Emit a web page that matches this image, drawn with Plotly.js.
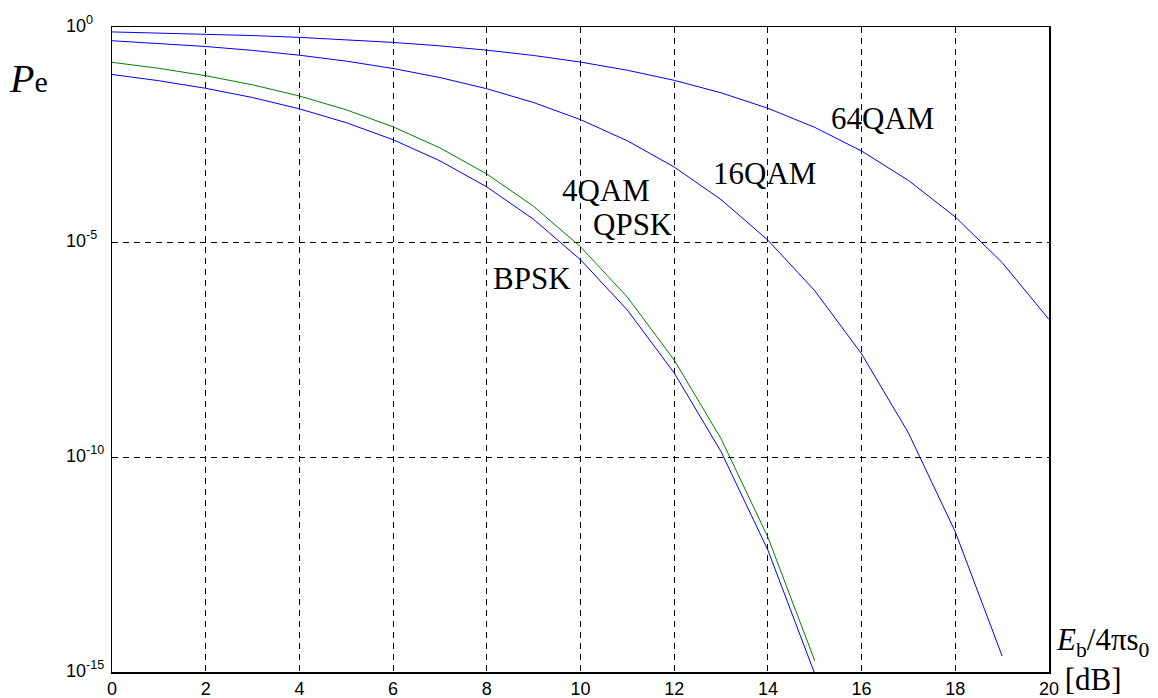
<!DOCTYPE html>
<html><head><meta charset="utf-8">
<script src="https://cdn.plot.ly/plotly-3.0.1.min.js"></script>
<style>html,body{margin:0;padding:0;background:#fff}#chart{width:1158px;height:698px}</style>
</head><body><div id="chart"></div>
<script>
// Eb/N0 in dB
const snrBPSK = [0,1,2,3,4,5,6,7,8,9,10,11,12,13,14,15];
const peBPSK = [7.865e-2,5.628e-2,3.751e-2,2.288e-2,1.250e-2,5.954e-3,2.388e-3,7.727e-4,1.909e-4,3.363e-5,3.872e-6,2.613e-7,9.006e-9,1.333e-10,6.810e-13,9.124e-16];
const snrQPSK = [0,1,2,3,4,5,6,7,8,9,10,11,12,13,14,15];
const peQPSK = [0.1511,0.1094,0.0736,0.0452,0.02484,0.01187,4.77e-3,1.545e-3,3.818e-4,6.726e-5,7.744e-6,5.226e-7,1.801e-8,2.666e-10,1.362e-12,1.825e-15];
const snr16 = [0,1,2,3,4,5,6,7,8,9,10,11,12,13,14,15,16,17,18,19];
const pe16 = [0.4791,0.4174,0.3522,0.2856,0.2208,0.1607,0.1084,0.0667,0.03665,0.01749,7.00e-3,2.258e-3,5.547e-4,9.69e-5,1.104e-5,7.37e-7,2.50e-8,3.63e-10,1.81e-12,2.35e-15];
const snr64 = [0,1,2,3,4,5,6,7,8,9,10,11,12,13,14,15,16,17,18,19,20];
const pe64 = [0.7686,0.7297,0.6846,0.6327,0.5738,0.5087,0.4382,0.3640,0.2893,0.2177,0.1529,0.0987,0.0575,0.02946,0.01288,4.629e-3,1.303e-3,2.699e-4,3.82e-5,3.33e-6,1.58e-7];

const xTicks = [0,2,4,6,8,10,12,14,16,18,20];
const yTickExp = [-15,-10,-5,0];
const yTickVals = yTickExp.map(e=>Math.pow(10,e));
const yTickText = yTickExp.map(e=>'10<sup>'+e+'</sup>');

const labels = ['64QAM','16QAM','4QAM','QPSK','BPSK'];
const labelX = [16.44,13.92,10.55,11.12,8.97];
const labelY = [-2.12,-3.40,-3.80,-4.60,-5.85];

const serif = 'Liberation Serif, Times New Roman, serif';
const sans = 'Liberation Sans, Arial, sans-serif';

const traces = [
  {x: snr64, y: pe64, mode:'lines', line:{color:'#0000ff', width:1}},
  {x: snr16, y: pe16, mode:'lines', line:{color:'#0000ff', width:1}},
  {x: snrBPSK, y: peBPSK, mode:'lines', line:{color:'#0000ff', width:1}},
  {x: snrQPSK, y: peQPSK, mode:'lines', line:{color:'#008000', width:1}}
];

const annotations = labels.map((t,i)=>({
  x: labelX[i], y: labelY[i], xref:'x', yref:'y', text: t, showarrow:false,
  font:{family: serif, size: 31, color:'#000'}
}));
// y tick labels, left aligned like the original
yTickExp.forEach((e,i)=>annotations.push({
  x:-0.0502, y:e, xref:'paper', yref:'y', xanchor:'left', yanchor:'middle', showarrow:false,
  text: yTickText[i], font:{family:sans, size:18, color:'#000'}, yshift:3, borderpad:0
}));
annotations.push({x:-0.0896, y:0.9209, xref:'paper', yref:'paper', xanchor:'center', yanchor:'middle', showarrow:false,
  text:'<i>P</i><span style="font-size:30px">e</span>', font:{family:serif, size:40, color:'#000'}});
annotations.push({x:1.0064, y:-0.0403, xref:'paper', yref:'paper', xanchor:'left', yanchor:'bottom', align:'left', showarrow:false,
  text:'<i>E</i><sub>b</sub>/4πs<sub>0</sub><br>&nbsp;[dB]', font:{family:serif, size:31, color:'#000'}, borderpad:0});

const layout = {
  width:1158, height:698,
  margin:{l:112, r:109, t:27, b:26, pad:0},
  paper_bgcolor:'#fff', plot_bgcolor:'#fff',
  showlegend:false,
  xaxis:{range:[0,20], tickvals:xTicks, ticktext:xTicks.map(String), showgrid:true, gridcolor:'#000', griddash:'6px,5px', gridwidth:1,
    showline:true, linecolor:'#000', linewidth:1.5, mirror:true, zeroline:false, ticks:'', ticklen:0,
    tickfont:{family:sans, size:18, color:'#000'}},
  yaxis:{type:'log', range:[-15,0], tickvals:yTickVals, showticklabels:false, showgrid:true, gridcolor:'#000', griddash:'6px,5px', gridwidth:1,
    showline:true, linecolor:'#000', linewidth:1.5, mirror:true, zeroline:false, ticks:'', ticklen:0},
  annotations: annotations
};
Plotly.newPlot('chart', traces, layout, {displayModeBar:false, staticPlot:true});
</script></body></html>
